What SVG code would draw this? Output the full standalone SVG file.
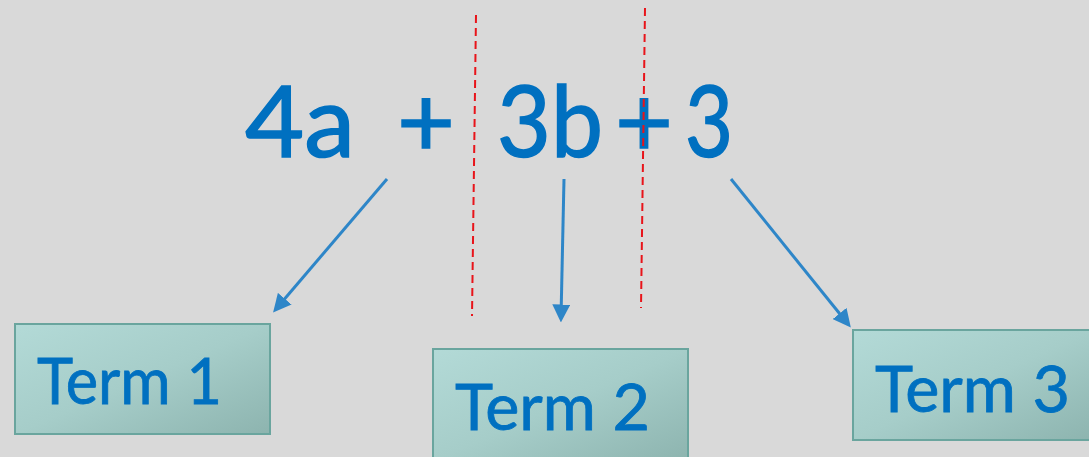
<svg xmlns="http://www.w3.org/2000/svg" width="1089" height="457" viewBox="0 0 1089 457">
  <style>
    .eq { font-family: "Lato", "Liberation Sans", sans-serif; font-size: 98px; fill: #0070C0; stroke: #0070C0; stroke-width: 1.5; }
    .term { font-family: "Lato", "Liberation Sans", sans-serif; font-size: 64px; fill: #0070C0; stroke: #0070C0; stroke-width: 0.8; }
    .box { fill: url(#boxGrad); stroke: #6AA59E; stroke-width: 2; }
    .cut { stroke: #E8141A; stroke-width: 2; stroke-dasharray: 8 5; fill: none; }
    .arrow { stroke: #2E86C8; stroke-width: 3; fill: none; marker-end: url(#ah); }
  </style>
  <defs>
    <linearGradient id="boxGrad" x1="0" y1="0" x2="1" y2="1">
      <stop offset="0" stop-color="#B3DAD7"/>
      <stop offset="0.5" stop-color="#A6CDC9"/>
      <stop offset="1" stop-color="#8DB4AF"/>
    </linearGradient>
    <marker id="ah" markerWidth="6" markerHeight="6" refX="4.5" refY="3" orient="auto" markerUnits="strokeWidth">
      <path d="M0,0 L6,3 L0,6 Z" fill="#2E86C8"/>
    </marker>
  </defs>
  <rect width="1089" height="457" fill="#D9D9D9"/>

  <g id="equation">
    <text class="eq" x="245" y="157" textLength="110" lengthAdjust="spacingAndGlyphs">4a</text>
    <text class="eq" x="397" y="157" textLength="58" lengthAdjust="spacingAndGlyphs">+</text>
    <text class="eq" x="497" y="157" textLength="106" lengthAdjust="spacingAndGlyphs">3b</text>
    <text class="eq" x="615" y="157" textLength="58" lengthAdjust="spacingAndGlyphs">+</text>
    <text class="eq" x="685" y="157" textLength="48" lengthAdjust="spacingAndGlyphs">3</text>
  </g>

  <g id="dividers">
    <line class="cut" x1="476" y1="15" x2="472" y2="316"/>
    <line class="cut" x1="645" y1="8" x2="641" y2="308"/>
  </g>

  <g id="term1">
    <rect class="box" x="15" y="324" width="255" height="110"/>
    <text class="term" x="37" y="404" textLength="185" lengthAdjust="spacingAndGlyphs">Term 1</text>
  </g>
  <g id="term2">
    <rect class="box" x="433" y="349" width="255" height="112"/>
    <text class="term" x="455" y="430" textLength="195" lengthAdjust="spacingAndGlyphs">Term 2</text>
  </g>
  <g id="term3">
    <rect class="box" x="853" y="330" width="240" height="110"/>
    <text class="term" x="875" y="412" textLength="195" lengthAdjust="spacingAndGlyphs">Term 3</text>
  </g>

  <g id="connectors">
    <line class="arrow" x1="387" y1="179" x2="276" y2="309"/>
    <line class="arrow" x1="564" y1="179" x2="561" y2="318"/>
    <line class="arrow" x1="731" y1="179" x2="848" y2="324"/>
  </g>
</svg>
